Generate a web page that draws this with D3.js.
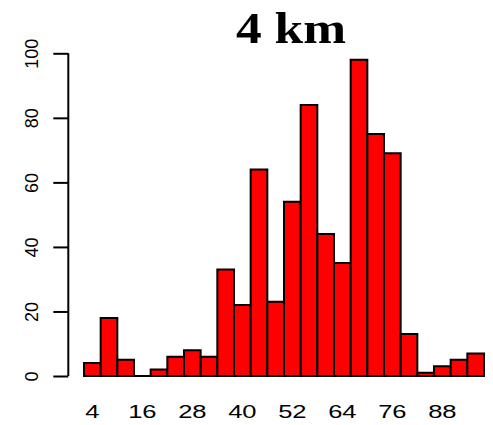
<!DOCTYPE html>
<html>
<head>
<meta charset="utf-8">
<script src="https://cdn.jsdelivr.net/npm/d3@7"></script>
<style>
html,body{margin:0;padding:0;background:#fff;}
svg{display:block;}
</style>
</head>
<body>
<svg id="chart" width="493" height="425"></svg>
<script>
const categories = [4,8,12,16,20,24,28,32,36,40,44,48,52,56,60,64,68,72,76,80,84,88,92,96];
const counts = [4,18,5,0,2,6,8,6,33,22,64,23,54,84,44,35,98,75,69,13,1,3,5,7];
const shownLabels = [4,16,28,40,52,64,76,88];
const yTicks = [0,20,40,60,80,100];
const title = "4 km";

const svg = d3.select("#chart");
const x = d3.scaleBand().domain(categories).range([84, 484]).padding(0);
const y = d3.scaleLinear().domain([0, 100]).range([376, 53.3]);

svg.append("g").selectAll("path").data(counts).join("path")
  .attr("d", (d, i) => {
    const x0 = x(categories[i]), x1 = x0 + x.bandwidth();
    return `M${x0},${y(0)}L${x0},${y(d)}L${x1},${y(d)}L${x1},${y(0)}Z`;
  })
  .attr("fill", "#ff0000")
  .attr("stroke", "#000")
  .attr("stroke-width", 2);

// y axis
const yAxis = d3.axisLeft(y).tickValues(yTicks).tickSize(15).tickFormat(d3.format("d"));
const gy = svg.append("g").attr("transform", "translate(68.3,0)").call(yAxis);
gy.select(".domain").attr("stroke-width", 2).attr("d", `M0,${y(0)}V${y(100)}`);
gy.selectAll(".tick line").attr("stroke-width", 2);
gy.selectAll(".tick text").remove();
gy.selectAll(".tick").append("text")
  .attr("transform", "translate(-30.5,0) rotate(-90)")
  .attr("text-anchor", "middle")
  .attr("fill", "#000")
  .style("font-family", "'Liberation Sans', Arial, sans-serif")
  .style("font-size", "18px")
  .attr("textLength", d => String(d).length * 10)
  .attr("lengthAdjust", "spacingAndGlyphs")
  .text(d => d);

// x labels
svg.append("g").selectAll("text").data(shownLabels).join("text")
  .attr("transform", d => `translate(${x(d) + x.bandwidth() / 2},418) scale(1.42,1)`)
  .attr("text-anchor", "middle")
  .attr("fill", "#000")
  .style("font-family", "'Liberation Sans', Arial, sans-serif")
  .style("font-size", "18px")
  .text(d => d);

// title
svg.append("text")
  .attr("x", 291).attr("y", 43.3)
  .attr("text-anchor", "middle")
  .attr("fill", "#000")
  .style("font-family", "'Liberation Serif', 'Times New Roman', serif")
  .style("font-weight", "bold")
  .style("font-size", "45px")
  .attr("textLength", 110)
  .attr("lengthAdjust", "spacingAndGlyphs")
  .text(title);
</script>
</body>
</html>
